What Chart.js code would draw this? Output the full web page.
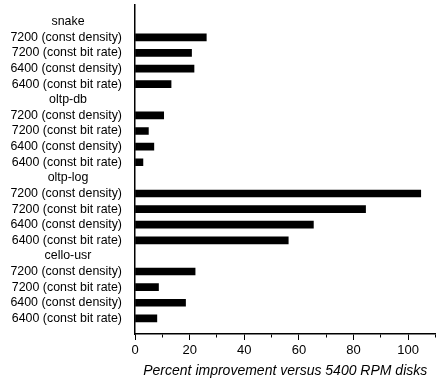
<!DOCTYPE html>
<html>
<head>
<meta charset="utf-8">
<script src="https://cdn.jsdelivr.net/npm/chart.js@4/dist/chart.umd.min.js"></script>
<style>
  html, body { margin: 0; padding: 0; background: #fff; }
  #wrap { width: 436px; height: 383px; }
</style>
</head>
<body>
<div id="wrap"><canvas id="chart"></canvas></div>
<script>
// workloads and disk configs, read top to bottom
const groups = ['snake', 'oltp-db', 'oltp-log', 'cello-usr'];
const configs = ['7200 (const density)', '7200 (const bit rate)', '6400 (const density)', '6400 (const bit rate)'];

// percent improvement versus 5400 RPM disks
const snake = [26.1, 20.7, 21.6, 13.2];
const oltpDb = [10.5, 4.9, 6.9, 2.9];
const oltpLog = [104.6, 84.4, 65.3, 56.1];
const celloUsr = [22.0, 8.6, 18.5, 8.0];

const xTickLabels = [0, 20, 40, 60, 80, 100];

const series = [snake, oltpDb, oltpLog, celloUsr];
const rowLabels = [];
const isHeader = [];
const points = [];
groups.forEach((g, gi) => {
    rowLabels.push(g);
    isHeader.push(true);
    configs.forEach((c, ci) => {
        rowLabels.push(c);
        isHeader.push(false);
        points.push({ x: series[gi][ci], y: rowLabels.length - 1 });
    });
});

const FONT = 'Liberation Sans, Arial, Helvetica, sans-serif';

// group headers are centred over the label column
const headerPlugin = {
    id: 'headers',
    afterDraw(chart) {
        const ctx = chart.ctx;
        const y = chart.scales.y;
        ctx.save();
        ctx.font = '12.4px ' + FONT;
        ctx.fillStyle = '#000';
        ctx.textAlign = 'center';
        ctx.textBaseline = 'middle';
        rowLabels.forEach((lab, i) => {
            if (isHeader[i]) ctx.fillText(lab, 68, y.getPixelForValue(i));
        });
        ctx.restore();
    }
};

new Chart(document.getElementById('chart'), {
    type: 'bar',
    data: {
        datasets: [{
            data: points,
            backgroundColor: '#000',
            borderWidth: 0,
            barThickness: 7
        }]
    },
    plugins: [headerPlugin],
    options: {
        indexAxis: 'y',
        responsive: true,
        maintainAspectRatio: false,
        animation: false,
        layout: { padding: { top: 5, right: 0.5, bottom: 3, left: 0 } },
        plugins: {
            legend: { display: false },
            tooltip: { enabled: false }
        },
        scales: {
            x: {
                type: 'linear',
                min: 0,
                max: 110,
                afterFit: (s) => { s.height = 46; s.paddingLeft = 0; s.paddingRight = 0; },
                ticks: {
                    stepSize: 10,
                    autoSkip: false,
                    maxRotation: 0,
                    padding: 3,
                    color: '#000',
                    font: { family: FONT, size: 13 },
                    callback: (v) => xTickLabels.includes(v) ? String(v) : ''
                },
                grid: {
                    drawOnChartArea: false,
                    drawTicks: true,
                    tickLength: 6,
                    tickColor: '#000',
                    tickBorderDash: (ctx) => (ctx.tick && ctx.tick.value % 20 !== 0) ? [3, 20] : []
                },
                border: { display: true, color: '#000', width: 1.5 },
                title: {
                    display: true,
                    text: 'Percent improvement versus 5400 RPM disks',
                    color: '#000',
                    padding: 0,
                    font: { family: FONT, size: 14, style: 'italic' }
                }
            },
            y: {
                type: 'linear',
                reverse: true,
                offset: false,
                min: -1.07,
                max: 20,
                afterFit: (s) => { s.width = 135; s.paddingTop = 0; s.paddingBottom = 0; },
                afterBuildTicks: (s) => { s.ticks = rowLabels.map((_, i) => ({ value: i })); },
                ticks: {
                    autoSkip: false,
                    padding: 13,
                    color: '#000',
                    font: { family: FONT, size: 12.4 },
                    callback: (v) => isHeader[v] ? '' : rowLabels[v]
                },
                grid: { display: false, drawTicks: false, offset: false },
                border: { display: true, color: '#000', width: 1.5 }
            }
        }
    }
});
</script>
</body>
</html>
